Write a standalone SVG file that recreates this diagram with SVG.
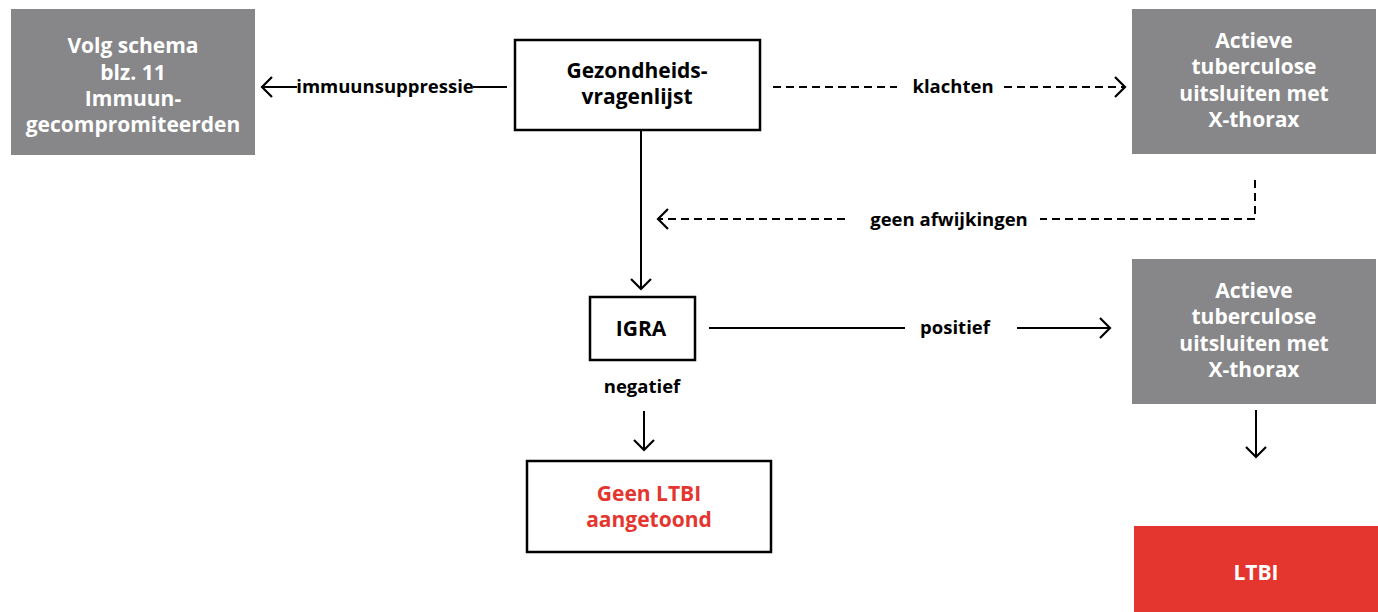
<svg xmlns="http://www.w3.org/2000/svg" width="1378" height="612" viewBox="0 0 1378 612">
  <style>
    .gray { fill: #87878a; }
    .red { fill: #e5352f; }
    .outline { fill: #ffffff; stroke: #000000; stroke-width: 2.5; }
    .t { font-family: "Open Sans", "Noto Sans", "Liberation Sans", sans-serif; font-weight: bold; text-anchor: middle; }
    .big { font-size: 21px; }
    .lbl { font-size: 18.5px; fill: #000000; }
    .white { fill: #ffffff; }
    .black { fill: #000000; }
    .redtxt { fill: #e5352f; }
    .line { fill: none; stroke: #000000; stroke-width: 2; }
    .dash { stroke-dasharray: 8 5; }
  </style>
  <defs>
    <marker id="arrow" viewBox="-14 -12 16 24" markerWidth="16" markerHeight="24" refX="0" refY="0" orient="auto" markerUnits="userSpaceOnUse">
      <path d="M-10,-10 L0,0 L-10,10" fill="none" stroke="#000000" stroke-width="2.2"/>
    </marker>
  </defs>

  <rect width="1378" height="612" fill="#ffffff"/>

  <g id="connectors">
    <!-- immuunsuppressie -->
    <line class="line" x1="507" y1="87" x2="473" y2="87"/>
    <line class="line" x1="297" y1="87" x2="262" y2="87" marker-end="url(#arrow)"/>
    <text class="t lbl" x="385" y="93">immuunsuppressie</text>
    <!-- klachten -->
    <line class="line dash" x1="773" y1="87" x2="897" y2="87"/>
    <line class="line dash" x1="1004" y1="87" x2="1125" y2="87" marker-end="url(#arrow)"/>
    <text class="t lbl" x="953" y="93">klachten</text>
    <!-- questionnaire to IGRA -->
    <line class="line" x1="641" y1="131" x2="641" y2="289" marker-end="url(#arrow)"/>
    <!-- geen afwijkingen -->
    <polyline class="line dash" points="1255,180 1255,219 1040,219"/>
    <line class="line dash" x1="845" y1="219" x2="658" y2="219" marker-end="url(#arrow)"/>
    <text class="t lbl" x="949" y="226">geen afwijkingen</text>
    <!-- positief -->
    <line class="line" x1="709" y1="328" x2="905" y2="328"/>
    <line class="line" x1="1017" y1="328" x2="1110" y2="328" marker-end="url(#arrow)"/>
    <text class="t lbl" x="955" y="334">positief</text>
    <!-- negatief -->
    <text class="t lbl" x="642" y="393">negatief</text>
    <line class="line" x1="644" y1="411" x2="644" y2="450" marker-end="url(#arrow)"/>
    <!-- X-thorax to LTBI -->
    <line class="line" x1="1256" y1="410" x2="1256" y2="457" marker-end="url(#arrow)"/>
  </g>

  <g id="node-immuun">
    <rect class="gray" x="11" y="9" width="244" height="146"/>
    <text class="t big white" x="133" y="53">Volg schema</text>
    <text class="t big white" x="133" y="80">blz. 11</text>
    <text class="t big white" x="133" y="106">Immuun-</text>
    <text class="t big white" x="133" y="132">gecompromiteerden</text>
  </g>

  <g id="node-vragenlijst">
    <rect class="outline" x="515" y="40" width="245" height="90"/>
    <text class="t big black" x="637" y="78">Gezondheids-</text>
    <text class="t big black" x="637" y="104">vragenlijst</text>
  </g>

  <g id="node-xthorax-1">
    <rect class="gray" x="1132" y="9" width="244" height="145"/>
    <text class="t big white" x="1254" y="48">Actieve</text>
    <text class="t big white" x="1254" y="74">tuberculose</text>
    <text class="t big white" x="1254" y="101">uitsluiten met</text>
    <text class="t big white" x="1254" y="127">X-thorax</text>
  </g>

  <g id="node-igra">
    <rect class="outline" x="590" y="297" width="105" height="63"/>
    <text class="t big black" x="641" y="336">IGRA</text>
  </g>

  <g id="node-xthorax-2">
    <rect class="gray" x="1132" y="259" width="244" height="145"/>
    <text class="t big white" x="1254" y="298">Actieve</text>
    <text class="t big white" x="1254" y="324">tuberculose</text>
    <text class="t big white" x="1254" y="351">uitsluiten met</text>
    <text class="t big white" x="1254" y="377">X-thorax</text>
  </g>

  <g id="node-geen-ltbi">
    <rect class="outline" x="527" y="461" width="244" height="91"/>
    <text class="t big redtxt" x="649" y="501">Geen LTBI</text>
    <text class="t big redtxt" x="649" y="527">aangetoond</text>
  </g>

  <g id="node-ltbi">
    <rect class="red" x="1134" y="526" width="244" height="86"/>
    <text class="t big white" x="1256" y="580">LTBI</text>
  </g>
</svg>
